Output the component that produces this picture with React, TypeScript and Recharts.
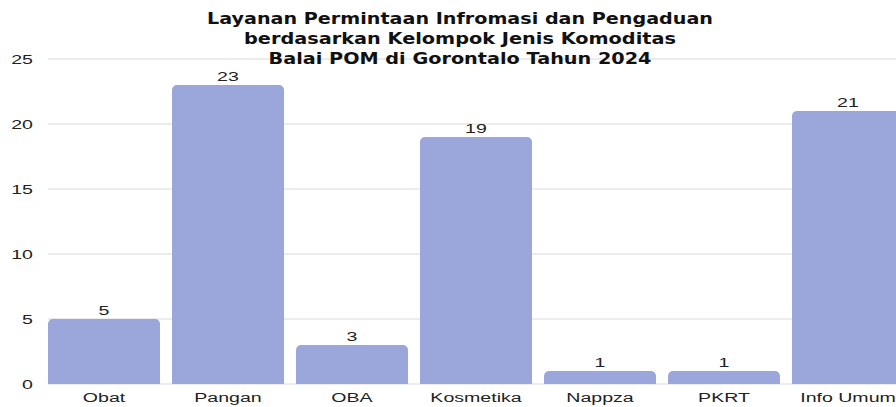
import { BarChart, Bar, XAxis, YAxis, CartesianGrid, LabelList } from 'recharts';

const categories = ['Obat', 'Pangan', 'OBA', 'Kosmetika', 'Nappza', 'PKRT', 'Info Umum'];
const counts = [5, 23, 3, 19, 1, 1, 21];
const yTicks = [0, 5, 10, 15, 20, 25];
const titleLines = [
  'Layanan Permintaan Infromasi dan Pengaduan',
  'berdasarkan Kelompok Jenis Komoditas',
  'Balai POM di Gorontalo Tahun 2024',
];

const chartData = categories.map((name, i) => ({ name, value: counts[i] }));

const STRETCH = 1.45;
const FONT = '"Liberation Sans", Arial, sans-serif';

function XTick(props: any) {
  const { x, y, payload } = props;
  return (
    <g transform={`translate(${x},${y})`}>
      <text transform={`scale(${STRETCH},1)`} textAnchor="middle" dy="0.71em" fontSize={13.5} fontFamily={FONT} fill="#222">
        {payload.value}
      </text>
    </g>
  );
}

function YTick(props: any) {
  const { x, y, payload } = props;
  return (
    <g transform={`translate(${x},${y})`}>
      <text transform={`scale(${STRETCH},1)`} textAnchor="end" dy="0.355em" fontSize={13.5} fontFamily={FONT} fill="#222">
        {payload.value}
      </text>
    </g>
  );
}

function ValueLabel(props: any) {
  const { x, y, width, value } = props;
  return (
    <g transform={`translate(${x + width / 2},${y - 4.5})`}>
      <text transform={`scale(${STRETCH},1)`} textAnchor="middle" fontSize={13.5} fontFamily={FONT} fill="#222">
        {value}
      </text>
    </g>
  );
}

export default function App() {
  const titleWidths = [506, 432, 383];
  return (
    <div style={{ position: 'absolute', left: 0, top: 0, width: 896, height: 407, overflow: 'hidden', background: '#fff' }}>
      <BarChart width={910} height={407} data={chartData} margin={{ top: 59, right: 0, bottom: 0, left: 0 }}>
        <CartesianGrid vertical={false} stroke="#e6e6e6" strokeWidth={1.5} />
        <XAxis
          dataKey="name"
          axisLine={false}
          tickLine={false}
          tickSize={0}
          tickMargin={8}
          height={23}
          interval={0}
          padding={{ left: -6, right: 0 }}
          tick={<XTick />}
        />
        <YAxis
          width={48}
          domain={[0, 25]}
          ticks={yTicks}
          axisLine={false}
          tickLine={false}
          tickSize={0}
          tickMargin={15}
          tick={<YTick />}
        />
        <Bar dataKey="value" fill="#9ba7db" barSize={112} radius={[5, 5, 0, 0]} isAnimationActive={false}>
          <LabelList dataKey="value" position="top" content={<ValueLabel />} />
        </Bar>
      </BarChart>
      <svg width={896} height={70} style={{ position: 'absolute', left: 0, top: 0, pointerEvents: 'none' }}>
        {titleLines.map((line, i) => (
          <text
            key={line}
            x={460}
            y={24 + i * 20}
            textAnchor="middle"
            textLength={titleWidths[i]}
            lengthAdjust="spacingAndGlyphs"
            fontSize={15.5}
            fontWeight="bold"
            fontFamily='"DejaVu Sans", sans-serif'
            fill="#111"
          >
            {line}
          </text>
        ))}
      </svg>
    </div>
  );
}
